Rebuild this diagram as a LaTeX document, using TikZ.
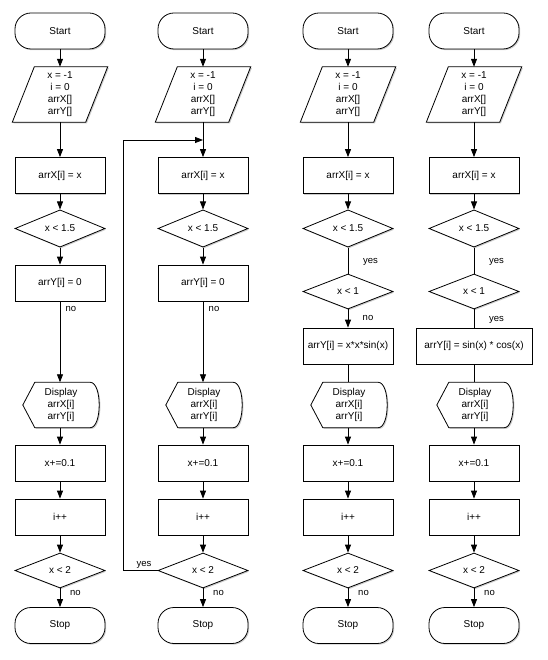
\documentclass[tikz,border=0pt]{standalone}
\usepackage{fontspec}
\setmainfont{Liberation Sans}
\usetikzlibrary{shapes.geometric,arrows.meta,shadows,backgrounds}
\newcommand{\fs}{\fontsize{10}{12}\selectfont}
\tikzset{
  sh/.style={drop shadow={shadow xshift=1.2pt,shadow yshift=-1.2pt,fill=black,opacity=0.2}},
  base/.style={draw, line width=0.8pt, fill=white, font=\fs, inner sep=0pt, align=center, sh},
  term/.style={base, rectangle, rounded corners=16pt, minimum width=90pt, minimum height=36pt},
  proc/.style={base, rectangle, minimum width=90pt, minimum height=36pt},
  dec/.style={base, diamond, minimum width=90pt, minimum height=35pt},
  ghost/.style={rectangle, inner sep=0pt, font=\fs, align=center},
  outline/.style={draw, line width=0.8pt, fill=white, sh},
  arr/.style={-{Triangle[width=6pt,length=8pt]}, line width=0.8pt},
  ln/.style={line width=0.8pt},
  lbl/.style={font=\fontsize{9.5}{11}\selectfont, inner sep=0pt}
}
\newcommand{\paraout}[1]{%
  \draw[outline] ([xshift=22pt]#1.north west) -- (#1.north east) -- ([xshift=-22pt]#1.south east) -- (#1.south west) -- cycle;}
\newcommand{\dispout}[1]{%
  \draw[outline] (#1.west) -- ([xshift=12pt]#1.north west) -- ([xshift=-9pt]#1.north east)
    .. controls ([xshift=3pt]#1.north east) and ([xshift=3pt]#1.south east) .. ([xshift=-9pt]#1.south east)
    -- ([xshift=12pt]#1.south west) -- cycle;}
\begin{document}
\begin{tikzpicture}[x=1pt,y=-1pt]
\useasboundingbox (0,0) rectangle (547,660);
\begin{scope}[on background layer]
  \fill[white] (0,0) rectangle (547,660);
\end{scope}
\foreach \c/\cx in {a/60,b/203,c/348,d/474}{
  \node[term] (start\c) at (\cx,31) {Start};
  \node[ghost, minimum width=95pt, minimum height=55pt] (init\c) at (\cx,94.5) {x = -1\\i = 0\\arrX[]\\arrY[]};
  \node[proc] (ax\c) at (\cx,175.5) {arrX[i] = x};
  \node[dec] (cf\c) at (\cx,228.5) {x < 1.5};
  \node[ghost, minimum width=76pt, minimum height=45pt] (disp\c) at (\cx+1,405) {Display\\arrX[i]\\arrY[i]};
  \node[proc] (inc\c) at (\cx,463) {x+=0.1};
  \node[proc] (ipp\c) at (\cx,517) {i++};
  \node[dec] (ct\c) at (\cx,570.5) {x < 2};
  \node[term] (stop\c) at (\cx,625.5) {Stop};
  \begin{scope}[on background layer]
    \paraout{init\c}
    \dispout{disp\c}
  \end{scope}
  \draw[arr] (start\c) -- (init\c);
  \draw[arr] (init\c) -- (ax\c);
  \draw[arr] (ax\c) -- (cf\c);
  \draw[arr] (inc\c) -- (ipp\c);
  \draw[arr] (ipp\c) -- (ct\c);
  \draw[arr] (ct\c) -- (stop\c);
  \draw[arr] (disp\c.south -| inc\c) -- (inc\c);
  \node[lbl] at (\cx+15.5,593) {no};
}
% columns 1 and 2
\node[proc] (aya) at (60,283) {arrY[i] = 0};
\node[proc] (ayb) at (203,283) {arrY[i] = 0};
\draw[arr] (cfa) -- (aya);
\draw[arr] (cfb) -- (ayb);
\draw[arr] (aya) -- (aya |- dispa.north);
\draw[arr] (ayb) -- (ayb |- dispb.north);
\node[lbl] at (71,309) {no};
\node[lbl] at (214,309) {no};
% loop in column 2
\coordinate (jb) at (203,140);
\coordinate (lp) at (123,140);
\draw[arr] (ctb.west) -| (lp) -- (jb);
\node[lbl] at (144,565) {yes};
% column 3
\node[dec] (c1c) at (348,291.5) {x < 1};
\node[proc] (ayc) at (348,346) {arrY[i] = x*x*sin(x)};
\draw[ln] (cfc) -- (c1c);
\draw[arr] (c1c) -- (ayc);
\draw[ln] (ayc) -- (ayc |- dispc.north);
\node[lbl] at (370.5,262) {yes};
\node[lbl] at (368,318) {no};
% column 4
\node[dec] (c1d) at (474,291.5) {x < 1};
\node[proc, minimum width=116pt] (ayd) at (474,346) {arrY[i] = sin(x) * cos(x)};
\draw[ln] (cfd) -- (c1d);
\draw[ln] (c1d) -- (ayd);
\draw[ln] (ayd) -- (ayd |- dispd.north);
\node[lbl] at (496.5,262) {yes};
\node[lbl] at (496.5,320) {yes};
\end{tikzpicture}
\end{document}
